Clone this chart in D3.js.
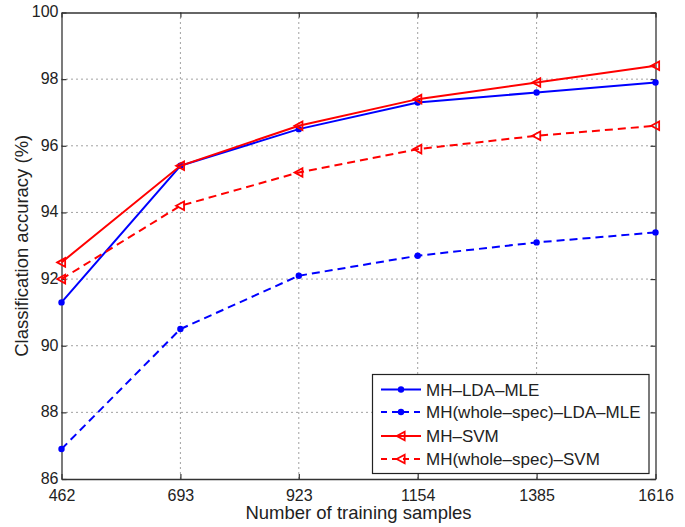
<!DOCTYPE html>
<html><head><meta charset="utf-8">
<script src="https://cdn.jsdelivr.net/npm/d3@7"></script>
<style>body{margin:0;background:#fff}svg{display:block}text{font-family:"Liberation Sans",Arial,sans-serif;fill:#222}</style>
</head><body><div id="chart"></div>
<script>
const samples = [462, 693, 923, 1154, 1385, 1616];
const yTicks = [86, 88, 90, 92, 94, 96, 98, 100];
const mhLdaMle = [91.3, 95.4, 96.5, 97.3, 97.6, 97.9];
const mhWholeLdaMle = [86.9, 90.5, 92.1, 92.7, 93.1, 93.4];
const mhSvm = [92.5, 95.4, 96.6, 97.4, 97.9, 98.4];
const mhWholeSvm = [92.0, 94.2, 95.2, 95.9, 96.3, 96.6];
const seriesNames = ["MH\u2013LDA\u2013MLE", "MH(whole\u2013spec)\u2013LDA\u2013MLE", "MH\u2013SVM", "MH(whole\u2013spec)\u2013SVM"];

const series = [
  {name: seriesNames[0], values: mhLdaMle, color: "#0000ff", dash: null, marker: "circle"},
  {name: seriesNames[1], values: mhWholeLdaMle, color: "#0000ff", dash: "8,5", marker: "circle"},
  {name: seriesNames[2], values: mhSvm, color: "#ff0000", dash: null, marker: "tri"},
  {name: seriesNames[3], values: mhWholeSvm, color: "#ff0000", dash: "8,5", marker: "tri"}
];

const W = 685, H = 527;
const L = 61.5, R = 655.5, T = 12.5, B = 479;
const svg = d3.select("#chart").append("svg").attr("width", W).attr("height", H);
const x = d3.scaleLinear().domain([462, 1616]).range([L, R]);
const y = d3.scaleLinear().domain([86, 100]).range([B, T]);

// grid
const g = svg.append("g");
g.selectAll(".gx").data(samples.slice(1, -1)).enter().append("line")
  .attr("x1", d => x(d)).attr("x2", d => x(d)).attr("y1", T).attr("y2", B)
  .attr("stroke", "#444").attr("stroke-width", 1).attr("stroke-dasharray", "1,4");
g.selectAll(".gy").data(yTicks.slice(1, -1)).enter().append("line")
  .attr("y1", d => y(d)).attr("y2", d => y(d)).attr("x1", L).attr("x2", R)
  .attr("stroke", "#444").attr("stroke-width", 1).attr("stroke-dasharray", "1,4");

// axes
const xa = svg.append("g").attr("transform", `translate(0,${B})`)
  .call(d3.axisBottom(x).tickValues(samples).tickFormat(d3.format("d")).tickSizeInner(-5).tickSizeOuter(0).tickPadding(11));
const xt = svg.append("g").attr("transform", `translate(0,${T})`)
  .call(d3.axisTop(x).tickValues(samples).tickFormat("").tickSizeInner(-5).tickSizeOuter(0));
const ya = svg.append("g").attr("transform", `translate(${L},0)`)
  .call(d3.axisLeft(y).tickValues(yTicks).tickFormat(d3.format("d")).tickSizeInner(-5).tickSizeOuter(0).tickPadding(3));
const yr = svg.append("g").attr("transform", `translate(${R},0)`)
  .call(d3.axisRight(y).tickValues(yTicks).tickFormat("").tickSizeInner(-5).tickSizeOuter(0));
[xa, xt, ya, yr].forEach(a => {
  a.select(".domain").attr("stroke", "#333").attr("stroke-width", 1.3);
  a.selectAll(".tick line").attr("stroke", "#333").attr("stroke-width", 1.2);
  a.selectAll("text").attr("font-size", 16).attr("fill", "#222").attr("font-family", '"Liberation Sans",Arial,sans-serif');
});
xa.selectAll("text").attr("dy", "0.66em");
ya.selectAll("text").attr("dy", "0.27em");

// lines
const line = d3.line().x((d, i) => x(samples[i])).y(d => y(d));
const triPath = (cx, cy, s) => `M${cx - s},${cy}L${cx + s * 0.85},${cy - s}L${cx + s * 0.85},${cy + s}Z`;
series.forEach(s => {
  svg.append("path").datum(s.values).attr("d", line).attr("fill", "none")
    .attr("stroke", s.color).attr("stroke-width", 2).attr("stroke-dasharray", s.dash);
  const m = svg.append("g");
  s.values.forEach((v, i) => {
    if (s.marker === "circle") {
      m.append("circle").attr("cx", x(samples[i])).attr("cy", y(v)).attr("r", 3.2).attr("fill", s.color);
    } else {
      m.append("path").attr("d", triPath(x(samples[i]), y(v), 4.3)).attr("fill", "none")
        .attr("stroke", s.color).attr("stroke-width", 1.8);
    }
  });
});

// legend
const lg = svg.append("g");
lg.append("rect").attr("x", 372.5).attr("y", 374.5).attr("width", 276.5).attr("height", 99)
  .attr("fill", "#fff").attr("stroke", "#222").attr("stroke-width", 1.2);
const rowsY = [389.5, 412, 436, 459];
series.forEach((s, i) => {
  const yy = rowsY[i];
  lg.append("line").attr("x1", 381).attr("x2", 421).attr("y1", yy).attr("y2", yy)
    .attr("stroke", s.color).attr("stroke-width", 2).attr("stroke-dasharray", s.dash ? "6,5" : null);
  if (s.marker === "circle") lg.append("circle").attr("cx", 401).attr("cy", yy).attr("r", 3.2).attr("fill", s.color);
  else lg.append("path").attr("d", triPath(401, yy, 4.3)).attr("fill", "none").attr("stroke", s.color).attr("stroke-width", 1.8);
  lg.append("text").attr("x", 426).attr("y", yy).attr("dy", "0.36em").attr("font-size", 17).text(s.name);
});

// axis titles
svg.append("text").attr("x", (L + R) / 2).attr("y", 519).attr("text-anchor", "middle")
  .attr("font-size", 18.5).text("Number of training samples");
svg.append("text").attr("transform", `translate(28,${(T + B) / 2}) rotate(-90)`).attr("text-anchor", "middle")
  .attr("font-size", 18.5).text("Classification accuracy (%)");
</script></body></html>
